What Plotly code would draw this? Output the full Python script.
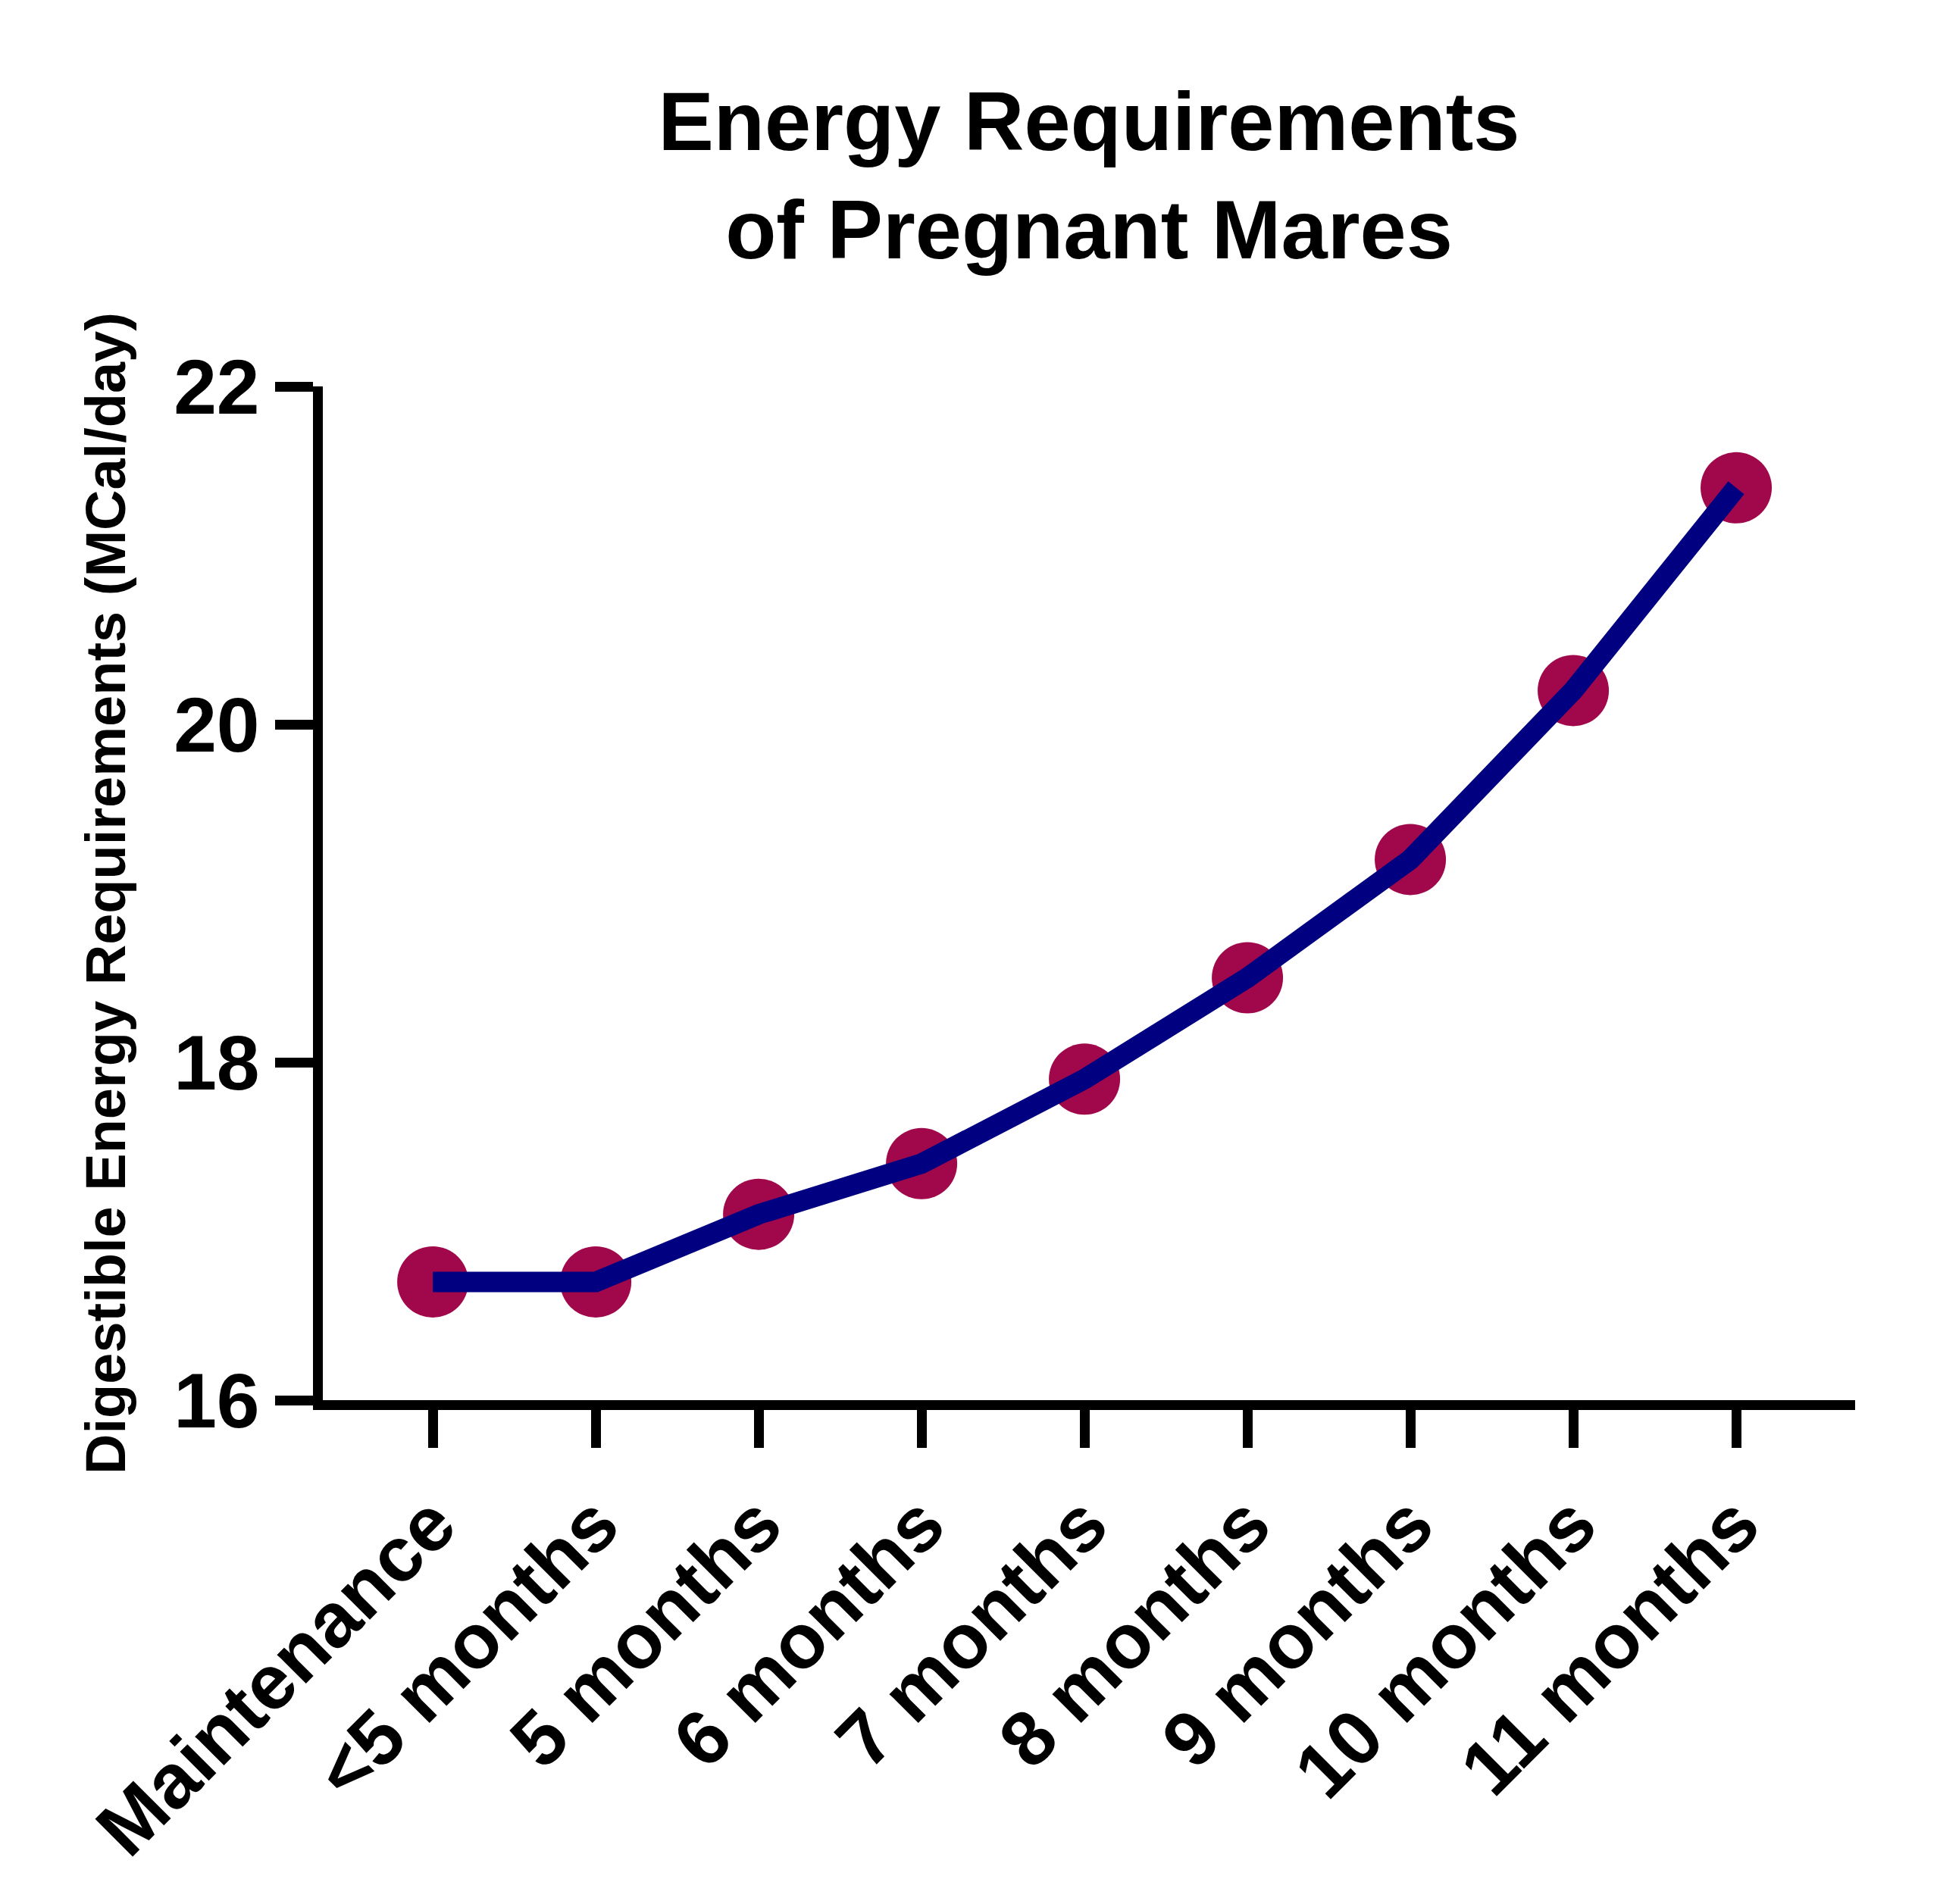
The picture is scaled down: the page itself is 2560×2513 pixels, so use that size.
import plotly.graph_objects as go

categories = ["Maintenance", "<5 months", "5 months", "6 months", "7 months",
              "8 months", "9 months", "10 months", "11 months"]
energy = [16.7, 16.7, 17.1, 17.4, 17.9, 18.5, 19.2, 20.2, 21.4]
y_ticks = [16, 18, 20, 22]

FONT = "Liberation Sans, Arial, sans-serif"
LINE_COLOR = "#000080"
MARKER_COLOR = "#A0084B"

fig = go.Figure()
fig.add_trace(go.Scatter(
    x=categories, y=energy, mode="markers",
    marker=dict(size=94, color=MARKER_COLOR, line=dict(width=0)),
    showlegend=False, cliponaxis=False,
))
fig.add_trace(go.Scatter(
    x=categories, y=energy, mode="lines",
    line=dict(width=27, color=LINE_COLOR),
    showlegend=False, cliponaxis=False,
))

fig.update_layout(
    width=2560, height=2513,
    margin=dict(l=418, r=120, t=502, b=673),
    paper_bgcolor="white", plot_bgcolor="white",
    title=dict(
        text="Energy Requirements<br>of Pregnant Mares",
        font=dict(family=FONT, size=110, color="black", weight="bold"),
        x=0.5, xref="paper", xanchor="center",
        y=1 - 190 / 2513, yref="container", yanchor="top",
    ),
    xaxis=dict(
        type="category", range=[-0.675, 8.73],
        showline=True, linewidth=13, linecolor="black",
        ticks="outside", ticklen=50, tickwidth=13, tickcolor="black",
        tickangle=-45, showgrid=False, zeroline=False,
        tickfont=dict(family=FONT, size=102, color="black", weight="bold"),
    ),
    yaxis=dict(
        range=[16, 22], tickvals=y_ticks,
        showline=True, linewidth=13, linecolor="black",
        ticks="outside", ticklen=50, tickwidth=13, tickcolor="black",
        showgrid=False, zeroline=False,
        tickfont=dict(family=FONT, size=102, color="black", weight="bold"),
        title=dict(text="Digestible Energy Requirements (MCal/day)",
                   font=dict(family=FONT, size=74, color="black", weight="bold"),
                   standoff=45),
    ),
)

fig.write_html("out.html")
